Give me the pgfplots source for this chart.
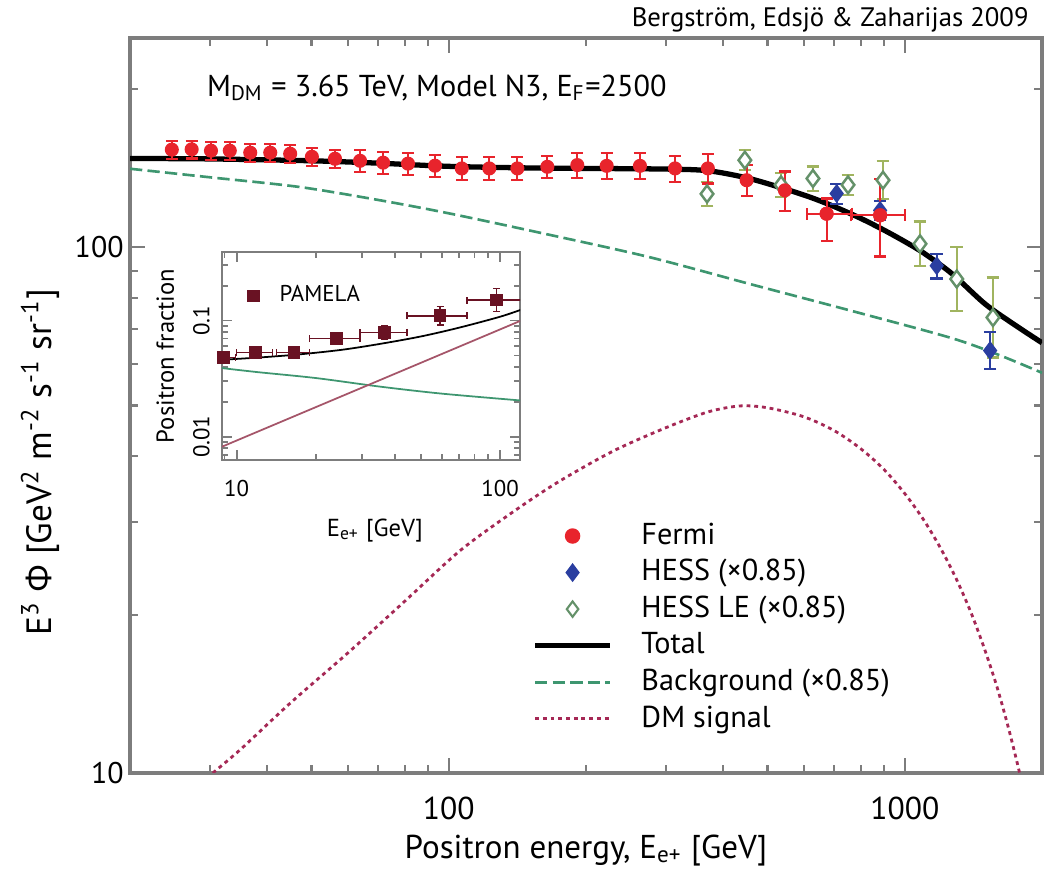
\documentclass[border=0pt]{standalone}
\usepackage{fontspec}
\setmainfont{PT Sans}
\newfontfamily\greekfont{Open Sans}
\usepackage{pgfplots}
\pgfplotsset{compat=1.18}
\usepackage{pgfplotstable}

\definecolor{fermired}{RGB}{232,36,44}
\definecolor{hessblue}{RGB}{42,62,160}
\definecolor{hessle}{RGB}{100,145,105}
\definecolor{hesslebar}{RGB}{160,180,95}
\definecolor{bggreen}{RGB}{62,150,112}
\definecolor{dmred}{RGB}{165,40,85}
\definecolor{pamela}{RGB}{105,18,35}
\definecolor{insetdm}{RGB}{165,85,105}
\definecolor{framegray}{RGB}{125,125,125}

\pgfplotsset{
  legmark/.style={legend image code/.code={\path (0cm,0cm) (1.02cm,0cm); \draw[##1] plot coordinates {(0.375cm,0cm)};}},
  legline/.style={legend image code/.code={\path (0cm,0cm) (1.02cm,0cm); \draw[##1] (0cm,0cm) -- (0.75cm,0cm);}},
  legpam/.style={legend image code/.code={\path (0cm,0cm) (0.27cm,0cm); \draw[##1] plot coordinates {(0.05cm,0cm)};}},
}

\pgfplotstableread{
x y ep em
24.7 153.3 6 6
27.3 153.5 6 6
30.1 152.6 6 6
33.1 152.6 6 6
36.7 151.3 6 6
40.6 151.3 6 6
44.9 150.6 6 6
50.1 148.6 6 6
56.3 147.3 6 6
63.9 146.0 7 7
71.8 144.8 7 7
81.4 144.2 7 7
93.3 142.9 7 7
106.8 141.2 7 7
122.7 141.2 7 7
141.4 141.2 7 7
164.5 142.2 7 7
191.4 143.3 8 8
222 142.8 8 8
262.6 142.8 8 8
313.5 141.2 8 8
370 141.2 9 9
450 134.1 9 9
546 128.3 11 11
674 115.8 8 13
883 115.0 20 19
}\fermi

\pgfplotstableread{
x y xp xm
674 115.8 91 64
883 115.0 117 122
}\fermix

\pgfplotstableread{
x y ep em
709 126.5 5.5 5.5
883 117.5 5.0 5.0
1175 92.2 5.0 5.0
1539 63.6 5.3 4.9
}\hess

\pgfplotstableread{
x y ep em
368.5 126.3 6.8 6.5
446 146.4 6.6 6.3
535.5 131.4 7.1 6.8
629 135.1 7.3 7.0
751 131.4 5.9 5.7
896 134.1 11.7 10.8
1080 101.5 10.4 9.4
1300 87.0 13.1 11.4
1561 73.5 14.1 11.8
}\hessle

\pgfplotstableread{
x y
20 147.5
30 147.2
50 146.0
70 144.5
100 142.5
150 141.5
200 141.2
300 140.8
370 139.8
450 135.5
535 129.8
620 124.5
700 119.5
800 113.5
900 107.8
1000 102.5
1100 97.5
1270 89.0
1500 78.0
1750 71.0
2000 65.8
}\total

\pgfplotstableread{
x y
20 141.0
30 135.8
47 130.2
70 123.0
100 116.0
167 105.5
276 95.7
458 85.1
759 75.8
1257 67.3
1600 62.5
2000 57.7
}\bg

\pgfplotstableread{
x y
28 9.3
30 9.9
35 11.1
45 13.6
60 16.9
80 21.2
106 26.5
140 31.6
175 35.9
230 41.0
300 45.4
370 48.6
435 49.9
500 49.5
600 47.6
700 44.8
800 41.4
900 37.8
1000 34.0
1100 30.3
1200 26.7
1300 23.3
1400 20.1
1500 17.1
1600 14.4
1700 11.9
1800 9.7
1900 7.7
}\dm

\pgfplotstableread{
x y ep em xp xm
8.9 0.048 0.003 0.003 1.0 0.9
11.8 0.053 0.003 0.003 1.9 1.8
16.5 0.053 0.003 0.003 2.4 2.3
23.9 0.070 0.007 0.006 5.5 4.95
36.5 0.079 0.011 0.010 7.8 7.1
59.2 0.110 0.022 0.018 15.7 14.9
97 0.150 0.040 0.030 25 22.1
}\pam

\pgfplotstableread{
x y
8.8 0.046
12 0.048
17 0.051
25 0.056
35 0.063
50 0.073
70 0.087
100 0.108
120 0.124
}\itot

\pgfplotstableread{
x y
8.8 0.039
12 0.036
20 0.032
35 0.027
60 0.0235
120 0.0205
}\ibg

\pgfplotstableread{
x y
8.8 0.0082
120 0.100
}\idm

\begin{document}
\begin{tikzpicture}
\path[use as bounding box] (-1.30,-0.99) rectangle (9.18,7.73);
\begin{axis}[
  at={(0,0)}, anchor=south west,
  scale only axis, width=9.12cm, height=7.35cm,
  xmode=log, ymode=log,
  xmin=20, xmax=2000, ymin=10, ymax=250,
  xtick={100,1000}, xticklabels={100,1000},
  minor xtick={20,30,40,50,60,70,80,90,200,300,400,500,600,700,800,900},
  ytick={10,100}, yticklabels={10,100},
  minor ytick={20,30,40,50,60,70,80,90,200},
  tick align=inside,
  major tick length=0.15cm, minor tick length=0.08cm,
  axis line style={framegray, line width=0.9pt},
  tick style={framegray, line width=0.6pt},
  tick label style={font=\fontsize{8.5}{10}\selectfont},
  xticklabel style={yshift=-0.12cm, font=\fontsize{9}{10}\selectfont},
  yticklabel style={xshift=0.06cm},
  /pgf/number format/assume math mode=true,
  xlabel={Positron energy, E\textsubscript{e+} [GeV]},
  xlabel style={at={(axis description cs:0.5,0)}, anchor=center, yshift=-0.78cm, font=\fontsize{9.4}{11}\selectfont},
  ylabel={E\textsuperscript{3} {\greekfont Φ} [GeV\textsuperscript{2} m\textsuperscript{-2} s\textsuperscript{-1} sr\textsuperscript{-1}]},
  ylabel style={at={(axis description cs:-0.0987,0.423)}, anchor=center, font=\fontsize{10}{12}\selectfont},
  title={Bergström, Edsjö \& Zaharijas 2009},
  title style={at={(axis description cs:1,1)}, anchor=east, yshift=-0.03cm, xshift=-0.01cm, font=\fontsize{7.6}{8.5}\selectfont},
  legend style={draw=none, fill=none, at={(0.4405,0.3456)}, anchor=north west,
    font=\fontsize{8.6}{10}\selectfont, inner sep=0pt, row sep=1.1pt,
    nodes={inner sep=0.5pt, text height=6.5pt, text depth=1.8pt}},
  legend cell align=left,
]
\addplot[bggreen, line width=0.75pt, dash pattern=on 3.5pt off 1.5pt, smooth, forget plot] table {\bg};
\addplot[dmred, line width=0.8pt, dash pattern=on 1.1pt off 1.1pt, smooth, forget plot] table {\dm};
\addplot[black, line width=1.5pt, smooth, forget plot] table {\total};

\addplot[only marks, mark=diamond*, mark size=2.4pt, hessle, mark options={fill=white, line width=0.7pt}, forget plot,
  error bars/.cd, y dir=both, y explicit,
  error bar style={hesslebar, line width=0.6pt},
  error mark options={rotate=90, mark size=1.8pt, hesslebar, line width=0.6pt}]
  table[x=x, y=y, y error plus=ep, y error minus=em] {\hessle};
\addplot[only marks, mark=diamond*, mark size=2.4pt, hessblue, forget plot,
  error bars/.cd, y dir=both, y explicit,
  error bar style={hessblue, line width=0.6pt},
  error mark options={rotate=90, mark size=1.8pt, hessblue, line width=0.6pt}]
  table[x=x, y=y, y error plus=ep, y error minus=em] {\hess};
\addplot[only marks, mark=*, mark size=1.8pt, fermired, forget plot,
  error bars/.cd, y dir=both, y explicit,
  error bar style={fermired, line width=0.6pt},
  error mark options={rotate=90, mark size=1.7pt, fermired, line width=0.6pt}]
  table[x=x, y=y, y error plus=ep, y error minus=em] {\fermi};
\addplot[only marks, mark=*, mark size=1.8pt, fermired, forget plot,
  error bars/.cd, x dir=both, x explicit,
  error bar style={fermired, line width=0.6pt},
  error mark options={rotate=90, mark size=1.7pt, fermired, line width=0.6pt}]
  table[x=x, y=y, x error plus=xp, x error minus=xm] {\fermix};

\addlegendimage{only marks, mark=*, mark size=2pt, fermired, legmark}
\addlegendentry{Fermi}
\addlegendimage{only marks, mark=diamond*, mark size=2.4pt, hessblue, legmark}
\addlegendentry{HESS (×0.85)}
\addlegendimage{only marks, mark=diamond*, mark size=2.2pt, hessle, mark options={fill=white, line width=0.6pt}, legmark}
\addlegendentry{HESS LE (×0.85)}
\addlegendimage{black, line width=1.5pt, legline}
\addlegendentry{Total}
\addlegendimage{bggreen, line width=0.75pt, dash pattern=on 3.5pt off 1.5pt, legline}
\addlegendentry{Background (×0.85)}
\addlegendimage{dmred, line width=0.8pt, dash pattern=on 1.1pt off 1.1pt, legline}
\addlegendentry{DM signal}

\node[anchor=west, font=\fontsize{8.6}{10}\selectfont] at (rel axis cs:0.071,0.932)
  {M\textsubscript{DM} = 3.65 TeV, Model N3, E\textsubscript{F}=2500};
\end{axis}

\begin{axis}[
  at={(0.92cm,3.13cm)}, anchor=south west,
  scale only axis, width=2.98cm, height=2.08cm,
  xmode=log, ymode=log,
  xmin=8.8, xmax=119, ymin=0.0063, ymax=0.39,
  xtick={10,100}, xticklabels={10,100},
  minor xtick={9,20,30,40,50,60,70,80,90},
  ytick={0.01,0.1}, yticklabels={0.01,0.1},
  minor ytick={0.007,0.008,0.009,0.02,0.03,0.04,0.05,0.06,0.07,0.08,0.09,0.2,0.3},
  tick align=inside, major tick length=0.1cm, minor tick length=0.06cm,
  axis line style={framegray, line width=0.8pt},
  tick style={framegray, line width=0.5pt},
  axis background/.style={fill=white},
  tick label style={font=\fontsize{6.5}{8}\selectfont},
  /pgf/number format/assume math mode=true,
  xticklabel style={yshift=-0.08cm},
  yticklabel style={rotate=90, anchor=south},
  xlabel={E\textsubscript{e+} [GeV]},
  xlabel style={at={(axis description cs:0.513,-0.337)}, anchor=center, font=\fontsize{7}{8}\selectfont},
  ylabel={Positron fraction},
  ylabel style={at={(axis description cs:-0.19,0.5)}, anchor=center, font=\fontsize{7}{8}\selectfont},
  legend style={draw=none, fill=none, at={(0.084,0.788)}, anchor=west,
    font=\fontsize{6.5}{7.5}\selectfont, inner sep=0pt, nodes={inner sep=1pt}},
  legend cell align=left,
]
\addplot[bggreen, line width=0.5pt, smooth, forget plot] table {\ibg};
\addplot[insetdm, line width=0.5pt, forget plot] table {\idm};
\addplot[black, line width=0.5pt, smooth, forget plot] table {\itot};
\addplot[only marks, mark=square*, mark size=1.6pt, pamela, forget plot,
  error bars/.cd, x dir=both, x explicit, y dir=both, y explicit,
  error bar style={pamela, line width=0.4pt},
  error mark options={rotate=90, mark size=1pt, pamela, line width=0.4pt}]
  table[x=x, y=y, x error plus=xp, x error minus=xm, y error plus=ep, y error minus=em] {\pam};
\addlegendimage{only marks, mark=square*, mark size=1.6pt, pamela, legpam}
\addlegendentry{PAMELA}
\end{axis}
\end{tikzpicture}
\end{document}
